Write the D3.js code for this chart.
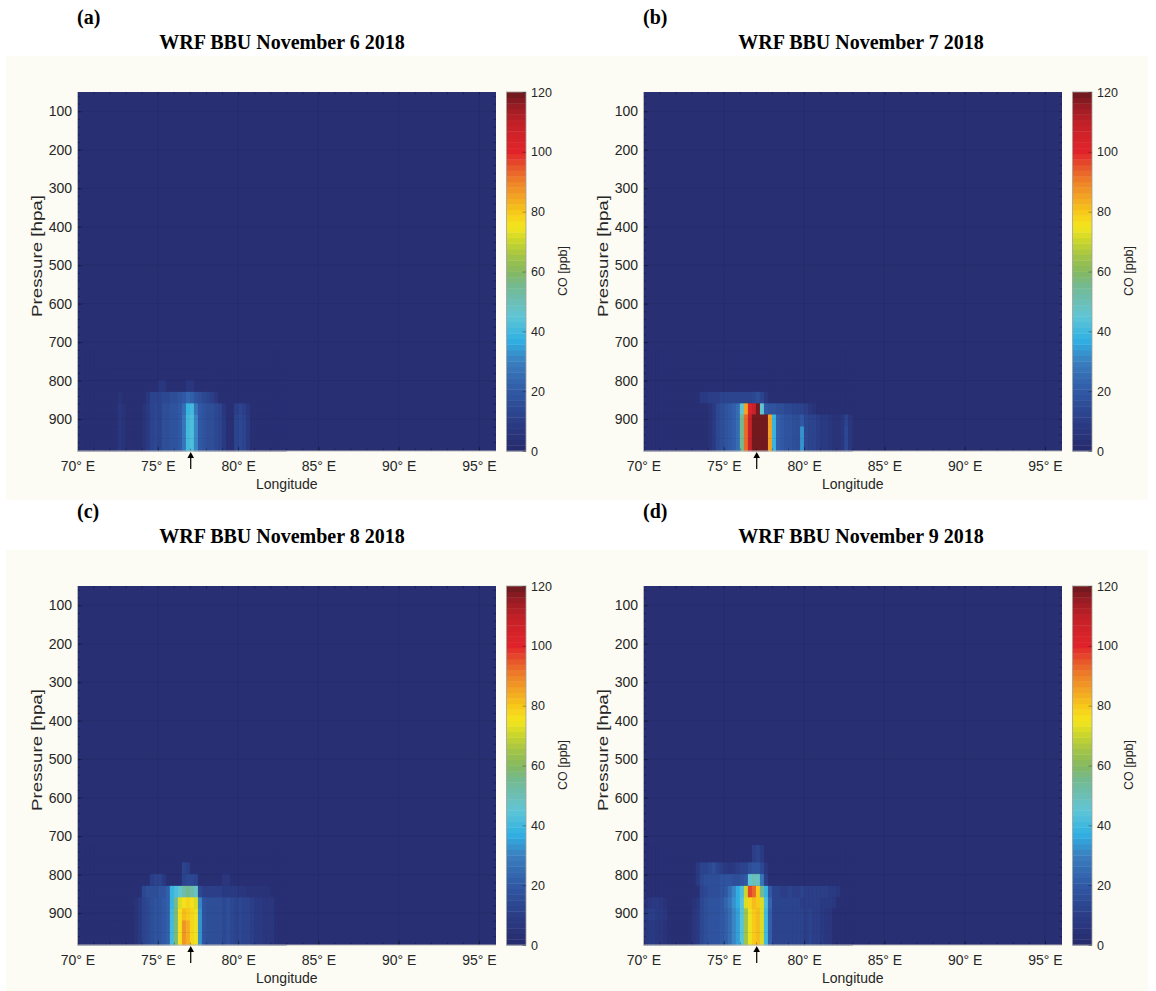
<!DOCTYPE html>
<html lang="en">
<head>
<meta charset="UTF-8">
<title>WRF BBU CO cross-sections</title>
<script src="https://cdnjs.cloudflare.com/ajax/libs/d3/7.8.5/d3.min.js"></script>
<style>
  html, body { margin: 0; padding: 0; background: #ffffff; }
  svg { display: block; }
</style>
</head>
<body>
<svg id="canvas" width="1156" height="991"></svg>
<script>
// ---- data ----
const panelLabels = ['(a)', '(b)', '(c)', '(d)']
const panelTitles = ['WRF BBU November 6 2018', 'WRF BBU November 7 2018',
                     'WRF BBU November 8 2018', 'WRF BBU November 9 2018']
const lonTicks = [70, 75, 80, 85, 90, 95]
const pressureTicks = [100, 200, 300, 400, 500, 600, 700, 800, 900]
const colorbarTicks = [0, 20, 40, 60, 80, 100, 120]

// model layers near the surface (hPa), bottom -> top
const levelBottoms = [983, 950, 918, 887, 858, 828, 797, 767]
const levelTops    = [950, 918, 887, 858, 828, 797, 767, 723]

// left edge of each 0.25 deg longitude bin
const lonBins = [70, 70.25, 70.5, 70.75, 71, 71.25, 71.5, 71.75, 72, 72.25, 72.5, 72.75,
                 73, 73.25, 73.5, 73.75, 74, 74.25, 74.5, 74.75, 75, 75.25, 75.5, 75.75,
                 76, 76.25, 76.5, 76.75, 77, 77.25, 77.5, 77.75, 78, 78.25, 78.5, 78.75,
                 79, 79.25, 79.5, 79.75, 80, 80.25, 80.5, 80.75, 81, 81.25, 81.5, 81.75,
                 82, 82.25, 82.5, 82.75]
const backgroundCO = 2
const arrowLon = 77.05

// CO [ppb], one row per layer (bottom first), one value per bin
const nov6 = [
  [2,2,2,2, 2,2,2,2, 2,2,7,4, 2,2,2,2, 4,8,12,14, 13,15,16,17, 18,20,28,40, 42,30,20,17, 16,15,14,12, 8,3,3,12, 14,12,8,2, 2,2,2,2, 2,2,2,2],
  [2,2,2,2, 2,2,2,2, 2,2,7,4, 2,2,2,2, 4,8,12,14, 13,15,16,17, 18,20,28,40, 42,30,20,17, 16,15,14,12, 8,3,3,12, 14,12,8,2, 2,2,2,2, 2,2,2,2],
  [2,2,2,2, 2,2,2,2, 2,2,7,4, 2,2,2,2, 4,8,12,14, 13,15,16,17, 18,20,28,40, 42,30,20,17, 16,15,14,12, 8,3,3,12, 14,12,8,2, 2,2,2,2, 2,2,2,2],
  [2,2,2,2, 2,2,2,2, 2,2,6,4, 2,2,2,2, 4,8,12,14, 13,15,16,17, 18,20,26,38, 40,28,20,17, 16,15,14,12, 6,3,3,10, 12,10,6,2, 2,2,2,2, 2,2,2,2],
  [2,2,2,2, 2,2,2,2, 2,2,5,3, 2,2,2,2, 2,6,12,13, 13,14,14,15, 16,18,20,24, 22,18,15,14, 12,10,6,2, 2,2,2,2, 2,2,2,2, 2,2,2,2, 2,2,2,2],
  [2,2,2,2, 2,2,2,2, 2,2,2,2, 2,2,2,2, 2,2,2,2, 6,6,2,2, 2,2,2,6, 6,2,2,2, 2,2,2,2, 2,2,2,2, 2,2,2,2, 2,2,2,2, 2,2,2,2],
  [2,2,2,2, 2,2,2,2, 2,2,2,2, 2,2,2,2, 2,2,2,2, 2,2,2,2, 2,2,2,2, 2,2,2,2, 2,2,2,2, 2,2,2,2, 2,2,2,2, 2,2,2,2, 2,2,2,2],
  [2,2,2,2, 2,2,2,2, 2,2,2,2, 2,2,2,2, 2,2,2,2, 2,2,2,2, 2,2,2,2, 2,2,2,2, 2,2,2,2, 2,2,2,2, 2,2,2,2, 2,2,2,2, 2,2,2,2]
]
const nov7 = [
  [2,2,2,2, 2,2,2,2, 2,2,2,2, 2,2,3,3, 4,8,14,16, 18,20,22,25, 55,92,108,122, 125,125,122,85, 38,22,20,18, 18,16,15,32, 14,12,12,10, 9,8,6,5, 5,6,14,6],
  [2,2,2,2, 2,2,2,2, 2,2,2,2, 2,2,3,3, 4,8,14,16, 18,20,22,25, 55,92,108,122, 125,125,122,85, 38,22,20,18, 18,16,15,32, 14,12,12,10, 9,8,6,5, 5,6,14,6],
  [2,2,2,2, 2,2,2,2, 2,2,2,2, 2,2,3,3, 4,8,14,16, 18,20,22,25, 55,92,108,122, 125,125,122,85, 38,22,20,18, 18,16,15,20, 14,12,12,10, 9,8,6,5, 5,6,12,6],
  [2,2,2,2, 2,2,2,2, 2,2,2,2, 2,2,3,3, 4,8,14,16, 18,20,22,25, 45,85,102,108, 124,45,20,18, 18,16,16,14, 14,13,12,12, 10,6,4,2, 2,2,2,2, 2,2,2,2],
  [2,2,2,2, 2,2,2,2, 2,2,2,2, 2,2,8,9, 10,10,11,12, 12,13,12,12, 12,12,13,14, 16,12,6,2, 2,2,2,2, 2,2,2,2, 2,2,2,2, 2,2,2,2, 2,2,2,2],
  [2,2,2,2, 2,2,2,2, 2,2,2,2, 2,2,2,2, 2,2,2,2, 2,2,2,2, 2,2,2,2, 2,2,2,2, 2,2,2,2, 2,2,2,2, 2,2,2,2, 2,2,2,2, 2,2,2,2],
  [2,2,2,2, 2,2,2,2, 2,2,2,2, 2,2,2,2, 2,2,2,2, 2,2,2,2, 2,2,2,2, 2,2,2,2, 2,2,2,2, 2,2,2,2, 2,2,2,2, 2,2,2,2, 2,2,2,2],
  [2,2,2,2, 2,2,2,2, 2,2,2,2, 2,2,2,2, 2,2,2,2, 2,2,2,2, 2,2,2,2, 2,2,2,2, 2,2,2,2, 2,2,2,2, 2,2,2,2, 2,2,2,2, 2,2,2,2]
]
const nov8 = [
  [2,2,2,2, 2,2,2,2, 2,2,2,2, 2,2,4,9, 12,14,16,17, 18,20,22,40, 58,75,88,84, 78,74,32,18, 15,15,16,15, 14,15,14,13, 14,13,12,10, 8,8,7,7, 6,2,2,2],
  [2,2,2,2, 2,2,2,2, 2,2,2,2, 2,2,4,9, 12,14,16,17, 18,20,22,40, 58,75,88,84, 78,74,32,18, 15,15,16,15, 14,15,14,13, 14,13,12,10, 8,8,7,7, 6,2,2,2],
  [2,2,2,2, 2,2,2,2, 2,2,2,2, 2,2,4,9, 12,14,16,17, 18,20,22,40, 58,75,82,80, 78,74,32,18, 15,15,16,15, 14,15,14,13, 14,13,12,10, 8,8,7,7, 6,2,2,2],
  [2,2,2,2, 2,2,2,2, 2,2,2,2, 2,2,4,9, 12,14,16,17, 18,20,22,38, 55,72,76,78, 76,72,30,18, 15,15,16,15, 14,15,14,13, 14,13,12,10, 8,8,7,7, 6,2,2,2],
  [2,2,2,2, 2,2,2,2, 2,2,2,2, 2,2,2,2, 14,15,16,16, 17,18,22,38, 42,45,52,55, 52,48,14,11, 11,10,10,10, 9,9,8,8, 6,6,5,5, 5,5,4,4, 2,2,2,2],
  [2,2,2,2, 2,2,2,2, 2,2,2,2, 2,2,2,2, 2,2,10,12, 12,8,2,2, 2,2,12,14, 14,12,2,2, 2,2,2,2, 6,6,2,2, 2,2,2,2, 2,2,2,2, 2,2,2,2],
  [2,2,2,2, 2,2,2,2, 2,2,2,2, 2,2,2,2, 2,2,2,2, 2,2,2,2, 2,2,12,10, 2,2,2,2, 2,2,2,2, 2,2,2,2, 2,2,2,2, 2,2,2,2, 2,2,2,2],
  [2,2,2,2, 2,2,2,2, 2,2,2,2, 2,2,2,2, 2,2,2,2, 2,2,2,2, 2,2,2,2, 2,2,2,2, 2,2,2,2, 2,2,2,2, 2,2,2,2, 2,2,2,2, 2,2,2,2]
]
const nov9 = [
  [6,8,8,7, 6,4,2,2, 2,2,2,2, 6,8,14,16, 17,18,18,20, 22,26,30,34, 44,65,74,80, 82,72,40,22, 13,13,12,12, 13,12,12,12, 11,12,11,10, 8,7,6,2, 2,2,2,2],
  [6,8,8,7, 6,4,2,2, 2,2,2,2, 6,8,14,16, 17,18,18,20, 22,26,30,34, 44,65,74,80, 82,72,40,22, 13,13,12,12, 13,12,12,12, 11,12,11,10, 8,7,6,2, 2,2,2,2],
  [8,10,10,9, 8,6,2,2, 2,2,2,2, 6,8,14,16, 17,18,18,20, 22,26,30,34, 44,65,74,80, 82,72,40,22, 13,13,12,12, 13,12,12,12, 11,12,11,10, 8,7,6,2, 2,2,2,2],
  [4,6,8,8, 6,4,2,2, 2,2,2,2, 4,6,14,16, 17,18,18,20, 24,28,32,36, 44,72,78,82, 80,72,42,24, 13,13,12,12, 13,12,12,11, 11,11,10,10, 9,8,8,7, 2,2,2,2],
  [2,2,2,2, 2,2,2,2, 2,2,2,2, 2,2,12,14, 15,16,16,18, 20,26,30,36, 42,70,96,92, 80,55,38,20, 12,12,11,11, 12,11,11,12, 11,10,10,10, 11,10,9,8, 7,2,2,2],
  [2,2,2,2, 2,2,2,2, 2,2,2,2, 2,8,14,15, 16,16,16,17, 17,17,16,16, 18,20,45,50, 48,28,10,2, 2,2,2,2, 2,2,2,2, 2,2,2,2, 2,2,2,2, 2,2,2,2],
  [2,2,2,2, 2,2,2,2, 2,2,2,2, 2,8,12,12, 14,16,12,10, 8,6,8,10, 12,13,15,18, 18,14,6,2, 2,2,2,2, 2,2,2,2, 2,2,2,2, 2,2,2,2, 2,2,2,2],
  [2,2,2,2, 2,2,2,2, 2,2,2,2, 2,2,2,2, 2,2,2,2, 2,2,2,2, 2,2,2,10, 12,8,2,2, 2,2,2,2, 2,2,2,2, 2,2,2,2, 2,2,2,2, 2,2,2,2]
]

// colour map of the colour bar (value -> colour)
const cmapValues = [0, 10, 20, 30, 37, 45, 50, 55, 60, 65, 70, 75, 80, 85, 90, 95, 100, 105, 110, 115, 120]
const cmapColors = ['#272a6b', '#2b3d86', '#3059a5', '#3a7fc0', '#30b0e4', '#5fc5d6', '#6cbfb4',
                    '#73ba93', '#86b95e', '#a2c448', '#c8d52d', '#f4e51d', '#f7c819', '#f2a424',
                    '#ee8227', '#e7552a', '#e1232a', '#d42229', '#c02027', '#9a1c23', '#6a1a1e']

// ---- layout ----
const panelData = [nov6, nov7, nov8, nov9]
const panelX = [0, 566, 0, 566]
const panelY = [0, 0, 494, 494]
const titleX = [282, 861, 282, 861]
const plotLeft = 77.5, plotTop = 92, plotW = 418.5, plotH = 359
const cbLeft = 506.5, cbW = 19.5
const binWidth = 0.25
const nColors = 64
const sansFont = '"Liberation Sans", Arial, Helvetica, sans-serif'
const serifFont = '"Liberation Serif", "Times New Roman", serif'

const cmap = d3.scaleLinear().domain(cmapValues).range(cmapColors).clamp(true)
let colorOf = (v) => {
    let k = Math.floor(v / 120 * nColors)
    k = Math.max(0, Math.min(nColors - 1, k))
    return cmap((k + 0.5) * 120 / nColors)
}

let svg = d3.select('#canvas')

let drawPanel = (p) => {
    let g = svg.append('g').attr('transform', `translate(${panelX[p]},${panelY[p]})`)
    let data = panelData[p]

    // cream figure background
    g.append('rect')
        .attr('x', 6).attr('y', 56)
        .attr('width', 576).attr('height', 444)
        .attr('fill', '#fcfcf4')

    g.append('text')
        .attr('x', 77).attr('y', 24)
        .attr('font-family', serifFont).attr('font-weight', 'bold').attr('font-size', 20)
        .attr('fill', '#000')
        .text(panelLabels[p])

    g.append('text')
        .attr('x', titleX[p] - panelX[p]).attr('y', 49)
        .attr('text-anchor', 'middle')
        .attr('font-family', serifFont).attr('font-weight', 'bold').attr('font-size', 20)
        .attr('fill', '#000')
        .text(panelTitles[p])

    let x = d3.scaleLinear().domain([70, 96.06]).range([plotLeft, plotLeft + plotW])
    let y = d3.scaleLinear().domain([50, 983]).range([plotTop, plotTop + plotH])

    let plot = g.append('g')
    plot.append('rect')
        .attr('x', plotLeft).attr('y', plotTop)
        .attr('width', plotW).attr('height', plotH)
        .attr('fill', colorOf(backgroundCO))

    let cells = []
    data.forEach((row, l) => {
        row.forEach((v, i) => {
            cells.push({ lon: lonBins[i], top: levelTops[l], bottom: levelBottoms[l], v: v })
        })
    })
    plot.selectAll('rect.cell')
        .data(cells)
        .enter()
        .append('rect')
        .attr('class', 'cell')
        .attr('x', (d) => x(d.lon))
        .attr('y', (d) => y(d.top))
        .attr('width', (d) => x(d.lon + binWidth) - x(d.lon) + 0.4)
        .attr('height', (d) => y(d.bottom) - y(d.top) + 0.4)
        .attr('fill', (d) => colorOf(d.v))

    // faint grid
    plot.selectAll('line.vgrid')
        .data(lonTicks.slice(1))
        .enter()
        .append('line')
        .attr('x1', (d) => x(d)).attr('x2', (d) => x(d))
        .attr('y1', plotTop).attr('y2', plotTop + plotH)
        .attr('stroke', 'rgba(0,0,0,0.06)').attr('stroke-width', 1)
    plot.selectAll('line.hgrid')
        .data(pressureTicks)
        .enter()
        .append('line')
        .attr('x1', plotLeft).attr('x2', plotLeft + plotW)
        .attr('y1', (d) => y(d)).attr('y2', (d) => y(d))
        .attr('stroke', 'rgba(0,0,0,0.06)').attr('stroke-width', 1)

    // minor / major ticks inside the box
    let lonMinor = d3.range(71, 96, 1)
    let presMinor = d3.range(60, 983, 20)
    let tickColor = 'rgba(0,0,0,0.3)'
    let styleAxis = (sel, fontSize) => {
        sel.attr('font-family', sansFont).attr('font-size', fontSize)
        sel.select('.domain').remove()
        sel.selectAll('line').attr('stroke', tickColor)
        sel.selectAll('text').attr('fill', '#262626')
    }

    plot.append('g').attr('transform', `translate(0,${plotTop + plotH})`)
        .call(d3.axisBottom(x).tickValues(lonMinor).tickSizeInner(-2.5).tickSizeOuter(0).tickFormat(''))
        .call((s) => styleAxis(s, 14))
    plot.append('g').attr('transform', `translate(0,${plotTop})`)
        .call(d3.axisTop(x).tickValues(lonMinor).tickSizeInner(-2.5).tickSizeOuter(0).tickFormat(''))
        .call((s) => styleAxis(s, 14))
    plot.append('g').attr('transform', `translate(${plotLeft},0)`)
        .call(d3.axisLeft(y).tickValues(presMinor).tickSizeInner(-2.5).tickSizeOuter(0).tickFormat(''))
        .call((s) => styleAxis(s, 14))
    plot.append('g').attr('transform', `translate(${plotLeft + plotW},0)`)
        .call(d3.axisRight(y).tickValues(presMinor).tickSizeInner(-2.5).tickSizeOuter(0).tickFormat(''))
        .call((s) => styleAxis(s, 14))

    plot.append('g').attr('transform', `translate(0,${plotTop + plotH})`)
        .call(d3.axisBottom(x).tickValues(lonTicks).tickSizeInner(-4.5).tickSizeOuter(0)
            .tickPadding(10).tickFormat((d) => d + '° E'))
        .call((s) => styleAxis(s, 14))
    plot.append('g').attr('transform', `translate(${plotLeft},0)`)
        .call(d3.axisLeft(y).tickValues(pressureTicks).tickSizeInner(-4.5).tickSizeOuter(0)
            .tickPadding(5.5))
        .call((s) => styleAxis(s, 14))

    // axis edges
    plot.append('path')
        .attr('d', `M${plotLeft},${plotTop}V${plotTop + plotH}H${plotLeft + plotW}`)
        .attr('fill', 'none').attr('stroke', '#b8b8b8').attr('stroke-width', 1)

    g.append('text')
        .attr('x', plotLeft + plotW / 2).attr('y', 489)
        .attr('text-anchor', 'middle')
        .attr('font-family', sansFont).attr('font-size', 14).attr('fill', '#262626')
        .text('Longitude')
    g.append('text')
        .attr('transform', `translate(42,256) rotate(-90)`)
        .attr('text-anchor', 'middle')
        .attr('font-family', sansFont).attr('font-size', 15).attr('fill', '#262626')
        .attr('textLength', 122).attr('lengthAdjust', 'spacingAndGlyphs')
        .text('Pressure [hpa]')

    // arrow marking the source longitude
    let ax = x(arrowLon)
    let ab = plotTop + plotH
    g.append('line')
        .attr('x1', ax).attr('x2', ax)
        .attr('y1', ab + 5).attr('y2', ab + 18)
        .attr('stroke', '#000').attr('stroke-width', 1.2)
    g.append('path')
        .attr('d', `M${ax},${ab + 1}L${ax - 3.3},${ab + 7}L${ax + 3.3},${ab + 7}Z`)
        .attr('fill', '#000')

    // colour bar
    let cbY = d3.scaleLinear().domain([0, 120]).range([plotTop + plotH, plotTop])
    let steps = d3.range(nColors)
    g.selectAll('rect.cb')
        .data(steps)
        .enter()
        .append('rect')
        .attr('class', 'cb')
        .attr('x', cbLeft)
        .attr('y', (k) => cbY((k + 1) * 120 / nColors))
        .attr('width', cbW)
        .attr('height', (k) => cbY(k * 120 / nColors) - cbY((k + 1) * 120 / nColors) + 0.4)
        .attr('fill', (k) => colorOf((k + 0.5) * 120 / nColors))
    g.append('rect')
        .attr('x', cbLeft).attr('y', plotTop)
        .attr('width', cbW).attr('height', plotH)
        .attr('fill', 'none').attr('stroke', '#a0a0a0').attr('stroke-width', 0.8)
    g.append('g').attr('transform', `translate(${cbLeft + cbW},0)`)
        .call(d3.axisRight(cbY).tickValues(colorbarTicks).tickSizeInner(-3.5).tickSizeOuter(0).tickPadding(5))
        .call((s) => styleAxis(s, 12.5))

    g.append('text')
        .attr('transform', `translate(567,271) rotate(-90)`)
        .attr('text-anchor', 'middle')
        .attr('font-family', sansFont).attr('font-size', 12.5).attr('fill', '#262626')
        .text('CO [ppb]')
}

for (let p = 0; p < 4; p++) {
    drawPanel(p)
}
</script>
</body>
</html>
